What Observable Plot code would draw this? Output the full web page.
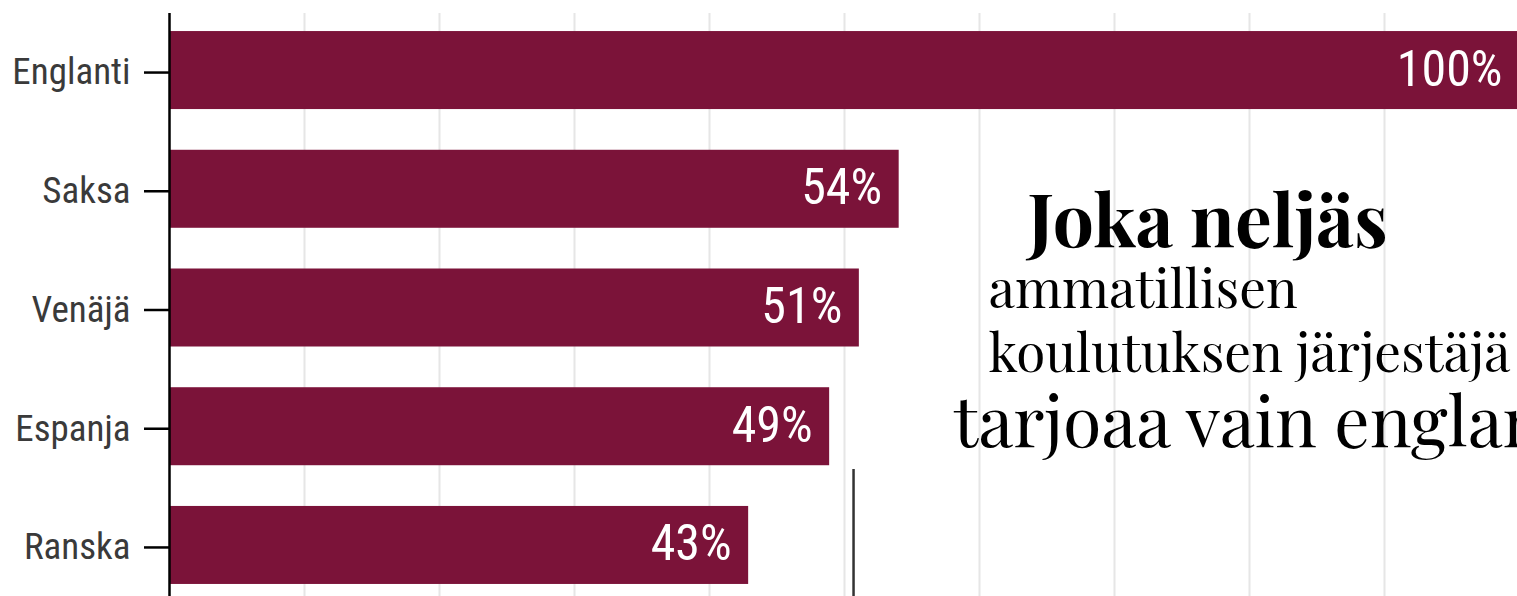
<!DOCTYPE html>
<html>
<head>
<meta charset="utf-8">
<script src="https://cdn.jsdelivr.net/npm/d3@7"></script>
<script src="https://cdn.jsdelivr.net/npm/@observablehq/plot@0.6"></script>
<style>
  html, body { margin: 0; padding: 0; background: white; overflow: hidden; }
  #chart svg { display: block; }
</style>
</head>
<body>
<div id="chart"></div>
<script>
// Data
const languages = ["Englanti", "Saksa", "Venäjä", "Espanja", "Ranska"];
const shares = [100, 54.05, 51.1, 48.9, 42.9];
const gridTicks = [10, 20, 30, 40, 50, 60, 70, 80, 90];
const annotationLines = [
  "Joka neljäs",
  "ammatillisen",
  "koulutuksen järjestäjä",
  "tarjoaa vain englantia"
];
const pointerX = [50.67];

const rows = languages.map((lang, i) => ({lang, value: shares[i], label: Math.round(shares[i]) + "%"}));

const sansCond = "'Roboto Condensed', 'Liberation Sans Narrow', 'DejaVu Sans Condensed', Roboto, sans-serif";
const serif = "'Playfair Display', 'Liberation Serif', 'DejaVu Serif', serif";

const chart = Plot.plot({
  width: 1517,
  height: 602,
  marginLeft: 169,
  marginRight: 0,
  marginTop: 13,
  marginBottom: 0,
  style: {fontFamily: sansCond, background: "white", overflow: "hidden"},
  x: {domain: [0, 100], range: [169, 1519], axis: null},
  y: {domain: languages, paddingInner: 0.343, paddingOuter: 0.152, round: false, label: null},
  marks: [
    Plot.gridX(gridTicks, {stroke: "#e6e6e6", strokeOpacity: 1, strokeWidth: 2}),
    Plot.barX(rows, {x: "value", y: "lang", fill: "#7b1339"}),
    Plot.text(rows, {
      x: "value", y: "lang", text: "label",
      textAnchor: "end", dx: -17, dy: -1,
      fill: "white", fontSize: 50, fontFamily: sansCond
    }),
    Plot.ruleX([0], {stroke: "black", strokeWidth: 2.5}),
    Plot.axisY({
      tickSize: 25, tickPadding: 14,
      stroke: "black", strokeWidth: 2.5,
      fill: "#3a3a3a", fontSize: 37, dy: 2
    }),
    Plot.ruleX(pointerX, {stroke: "#333333", strokeWidth: 2.5, insetTop: 456}),
    Plot.text([annotationLines[0]], {
      frameAnchor: "top-left", text: d => d, textAnchor: "start", lineAnchor: "middle",
      dx: 858, dy: 210, fontSize: 73, fontWeight: "bold", fontFamily: serif, fill: "black"
    }),
    Plot.text([annotationLines[1]], {
      frameAnchor: "top-left", text: d => d, textAnchor: "start", lineAnchor: "middle",
      dx: 819, dy: 278, fontSize: 53, fontFamily: serif, fill: "black"
    }),
    Plot.text([annotationLines[2]], {
      frameAnchor: "top-left", text: d => d, textAnchor: "start", lineAnchor: "middle",
      dx: 819, dy: 342, fontSize: 53, fontFamily: serif, fill: "black"
    }),
    Plot.text([annotationLines[3]], {
      frameAnchor: "top-left", text: d => d, textAnchor: "start", lineAnchor: "middle",
      dx: 784, dy: 411, fontSize: 70, fontFamily: serif, fill: "black"
    })
  ]
});
document.getElementById("chart").appendChild(chart);
</script>
</body>
</html>
